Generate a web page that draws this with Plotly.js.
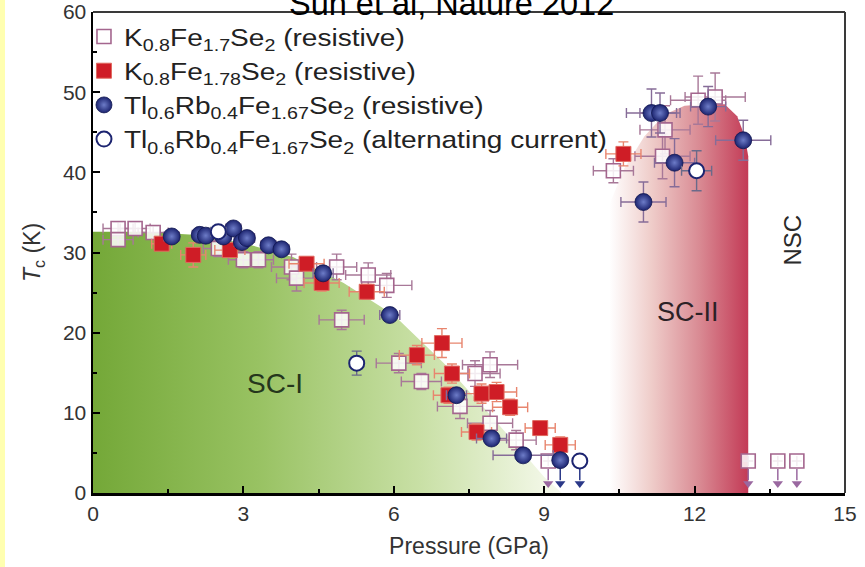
<!DOCTYPE html>
<html><head><meta charset="utf-8">
<script src="https://cdn.plot.ly/plotly-3.0.1.min.js"></script>
<style>
html,body{margin:0;padding:0;background:#fff;overflow:hidden;}
#strip{position:absolute;left:0;top:0;width:5px;height:567px;background:#ffffb0;}
#chart{position:absolute;left:5px;top:0;width:860px;height:567px;}
#chart .legend .legendtext{transform:scaleX(1.17);transform-box:fill-box;transform-origin:0 50%;}
#chart .legend .scrollbox{clip-path:none !important;}
</style></head><body>
<div id="strip"></div><div id="chart"></div>
<script>
// ---- Data ----
// K0.8Fe1.7Se2 (resistive) - open squares
const kfe17P  = [0.5,0.5,0.84,1.2,2.5,3.0,3.3,3.96,4.06,4.86,4.96,5.49,5.86,6.1,6.55,7.32,7.62,7.92,7.92,8.44,9.08,10.38,11.36,11.41,12.07,12.41,13.07,13.66,14.04];
const kfe17T  = [33.0,31.6,33.0,32.5,30.5,29.1,29.1,28.2,26.8,28.2,21.6,27.2,25.9,16.2,13.9,10.8,14.9,16.0,8.7,6.6,4.0,40.2,42.0,45.3,49.0,49.4,4.0,4.0,4.0];
const kfe17dP = [0.3,0.3,0.3,0.3,0.3,0.3,0.3,0.4,0.4,0.4,0.45,0.45,0.5,0.45,0.4,0.45,0.5,0.55,0.45,0.4,0,0.4,0.55,0.5,0.55,0.6,0,0,0];
const kfe17dT = [0.8,0.8,0.8,0.8,1.0,1.0,1.0,1.6,1.6,1.6,1.2,1.5,1.5,1.2,1.0,1.5,1.6,1.6,1.6,1.2,0,1.5,2.8,3.0,3.0,3.0,0,0,0];
const kfe17Up = [0,0,0,0,0,0,0,0,0,0,0,0,0,0,0,0,0,0,0,0,1,0,0,0,0,0,1,1,1];

// K0.8Fe1.78Se2 (resistive) - filled red squares
const kfe178P  = [1.37,2.0,2.73,4.26,4.56,5.46,6.46,6.96,7.09,7.16,7.65,7.75,8.05,8.32,8.92,9.32,10.58];
const kfe178T  = [31.1,29.7,30.3,28.6,26.2,25.1,17.2,18.7,12.2,14.9,7.6,12.4,12.6,10.7,8.1,6.0,42.3];
const kfe178dP = [0.2,0.25,0.3,0.35,0.35,0.35,0.35,0.4,0.3,0.35,0.3,0.4,0.4,0.35,0.3,0.3,0.35];
const kfe178dT = [0.6,1.5,0.8,0.8,1.0,0.9,1.2,1.8,1.0,1.2,1.0,1.2,1.2,1.0,0.8,1.0,1.5];

// Tl0.6Rb0.4Fe1.67Se2 (resistive) - filled blue circles
const tlrP  = [1.57,2.13,2.25,2.6,2.8,2.97,3.07,3.5,3.76,4.59,5.92,7.25,7.95,8.58,9.32,10.98,11.14,11.31,11.6,12.27,12.97];
const tlrT  = [32.0,32.2,32.1,32.0,33.0,31.3,31.8,30.9,30.4,27.4,22.2,12.2,6.8,4.7,4.1,36.3,47.4,47.4,41.2,48.2,44.0];
const tlrdP = [0.15,0.15,0.15,0.15,0.15,0.15,0.15,0.15,0.15,0.2,0.2,0.2,0.3,0.6,0,0.45,0.5,0.4,0.4,0.35,0.55];
const tlrdT = [0.5,0.5,0.5,0.5,0.5,0.5,0.5,0.5,0.5,0.6,0.6,0.8,0.8,0.6,0,2.5,3.0,2.5,3.0,2.5,2.5];
const tlrUp = [0,0,0,0,0,0,0,0,0,0,0,0,0,0,1,0,0,0,0,0,0];

// Tl0.6Rb0.4Fe1.67Se2 (alternating current) - open circles
const tlaP  = [2.5,5.26,9.71,12.04];
const tlaT  = [32.6,16.2,4.0,40.2];
const tladP = [0.15,0.1,0,0.3];
const tladT = [0.6,1.5,0,2.5];
const tlaUp = [0,0,1,0];

// Phase boundaries
const sc1P = [0,1.0,2.0,3.0,4.0,5.0,6.0,7.0,8.0,9.0,9.35];
const sc1T = [32.6,32.6,32.2,31.2,29.4,26.2,22.2,16.2,9.2,2.0,0];
const sc2P = [10.3,10.6,11.0,11.4,11.8,12.2,12.6,12.85,13.0,13.07,13.07];
const sc2T = [36.0,40.5,44.5,47.2,48.3,48.5,48.5,47.0,44.5,42.0,0];

// Axis ticks
const xTicks = [0,3,6,9,12,15];
const yTicks = [0,10,20,30,40,50,60];

// ---- Styles ----
const FONT = 'Liberation Sans, Arial, sans-serif';
const pinkEdge = '#a4668e';
const redFill = '#cf1d26';
const navy = '#1c2470';

// build "upper limit" arrows (stem + head) from flagged data points
function arrowTraces(P, T, flags, color){
  const lx = [], ly = [], hx = [], hy = [];
  P.forEach((p,i)=>{ if(flags[i]){ lx.push(p,p,null); ly.push(T[i]-1.0, 1.6, null); hx.push(p); hy.push(1.2); } });
  return [
    {x:lx, y:ly, type:'scatter', mode:'lines', line:{color:color, width:1.5}, showlegend:false, hoverinfo:'skip'},
    {x:hx, y:hy, type:'scatter', mode:'markers', marker:{symbol:'triangle-down', size:9, color:color, line:{width:0}}, showlegend:false, hoverinfo:'skip'}
  ];
}

const traces = [
  {x: sc1P, y: sc1T, type:'scatter', mode:'lines', fill:'tozeroy', line:{width:0, color:'rgba(0,0,0,0)'},
   fillgradient:{type:'horizontal', colorscale:[[0,'#74a838'],[0.35,'#98c262'],[0.7,'#c9e0a6'],[1,'#f7faee']]},
   showlegend:false, hoverinfo:'skip'},
  {x: sc2P, y: sc2T, type:'scatter', mode:'lines', fill:'tozeroy', line:{width:0, color:'rgba(0,0,0,0)'},
   fillgradient:{type:'horizontal', colorscale:[[0,'rgba(255,255,255,1)'],[0.3,'#efcdca'],[0.65,'#d98a93'],[1,'#c33a56']]},
   showlegend:false, hoverinfo:'skip'},
  ...arrowTraces(kfe17P,kfe17T,kfe17Up,'#9a68a0'),
  ...arrowTraces(tlrP,tlrT,tlrUp,'#2a3888'),
  ...arrowTraces(tlaP,tlaT,tlaUp,'#2a3888'),
  {x: kfe17P, y: kfe17T, type:'scatter', mode:'markers',
   name:'K<sub>0.8</sub>Fe<sub>1.7</sub>Se<sub>2</sub> (resistive)',
   marker:{symbol:'square', size:14, color:'rgba(255,255,255,0.85)', line:{color:pinkEdge, width:1.6}},
   error_x:{type:'data', array:kfe17dP, color:'#a87898', thickness:1.4, width:5},
   error_y:{type:'data', array:kfe17dT, color:'#a87898', thickness:1.4, width:5}},
  {x: kfe178P, y: kfe178T, type:'scatter', mode:'markers',
   name:'K<sub>0.8</sub>Fe<sub>1.78</sub>Se<sub>2</sub> (resistive)',
   marker:{symbol:'square', size:15, color:redFill, line:{color:'#e06a60', width:1}},
   error_x:{type:'data', array:kfe178dP, color:'#e8856e', thickness:1.4, width:5},
   error_y:{type:'data', array:kfe178dT, color:'#e8856e', thickness:1.4, width:5}},
  {x: tlrP, y: tlrT, type:'scatter', mode:'markers',
   name:'Tl<sub>0.6</sub>Rb<sub>0.4</sub>Fe<sub>1.67</sub>Se<sub>2</sub> (resistive)',
   marker:{symbol:'circle', size:17, color:navy, gradient:{type:'radial', color:'#6d7cc8'}, line:{color:'#101650', width:0.8}},
   error_x:{type:'data', array:tlrdP, color:'#866c98', thickness:1.4, width:5},
   error_y:{type:'data', array:tlrdT, color:'#866c98', thickness:1.4, width:5}},
  {x: tlaP, y: tlaT, type:'scatter', mode:'markers',
   name:'Tl<sub>0.6</sub>Rb<sub>0.4</sub>Fe<sub>1.67</sub>Se<sub>2</sub> (alternating current)',
   marker:{symbol:'circle', size:15, color:'#ffffff', line:{color:navy, width:2}},
   error_x:{type:'data', array:tladP, color:'#6a6a8a', thickness:1.4, width:5},
   error_y:{type:'data', array:tladT, color:'#6a6a8a', thickness:1.4, width:5}}
];

const annotations = [
  {x:3.63, y:13.7, xref:'x', yref:'y', text:'SC-I', showarrow:false, font:{family:FONT, size:28, color:'#25361c'}},
  {x:11.87, y:22.6, xref:'x', yref:'y', text:'SC-II', showarrow:false, font:{family:FONT, size:27, color:'#2c2226'}},
  {x:13.96, y:31.6, xref:'x', yref:'y', text:'NSC', textangle:-90, showarrow:false, font:{family:FONT, size:24, color:'#2a2a2a'}},
  {x:0.477, y:0.975, xref:'paper', yref:'paper', yanchor:'bottom', text:'Sun et al, Nature 2012', showarrow:false, font:{family:FONT, size:32.5, color:'#000'}}
];

const tickFont = {family:FONT, size:21, color:'#333'};
const layout = {
  width:860, height:567,
  margin:{l:88, r:20, t:12, b:74},
  paper_bgcolor:'#ffffff', plot_bgcolor:'#ffffff',
  showlegend:true,
  legend:{x:-0.012, y:0.995, xanchor:'left', yanchor:'top', bgcolor:'rgba(0,0,0,0)',
          font:{family:FONT, size:24, color:'#222'}, tracegroupgap:0, itemwidth:30},
  xaxis:{range:[0,15], tickvals:xTicks, ticktext:xTicks.map(String), ticks:'inside', ticklen:7, tickwidth:2, tickcolor:'#000',
         minor:{dtick:1.5, tick0:0, ticks:'inside', ticklen:4, tickwidth:2, tickcolor:'#000'},
         showline:true, linewidth:2.5, linecolor:'#000', showgrid:false, zeroline:false, tickfont:tickFont,
         title:{text:'Pressure (GPa)', font:{family:FONT, size:23, color:'#333'}, standoff:14}},
  yaxis:{range:[0,60], tickvals:yTicks, ticktext:yTicks.map(String), ticks:'inside', ticklen:7, tickwidth:2, tickcolor:'#000',
         minor:{dtick:5, tick0:0, ticks:'inside', ticklen:4, tickwidth:2, tickcolor:'#000'},
         showline:true, linewidth:2.5, linecolor:'#000', showgrid:false, zeroline:false, tickfont:tickFont,
         title:{text:'<i>T</i><sub>c</sub> (K)', font:{family:FONT, size:23, color:'#333'}, standoff:16}},
  shapes:[
    {type:'line', xref:'paper', yref:'paper', x0:0, x1:1, y0:1, y1:1, line:{color:'#3a3a3a', width:2}},
    {type:'line', xref:'paper', yref:'paper', x0:1, x1:1, y0:0, y1:1, line:{color:'#3a3a3a', width:2}}
  ],
  annotations: annotations
};

Plotly.newPlot('chart', traces, layout, {displayModeBar:false, staticPlot:true});
</script>
</body></html>
